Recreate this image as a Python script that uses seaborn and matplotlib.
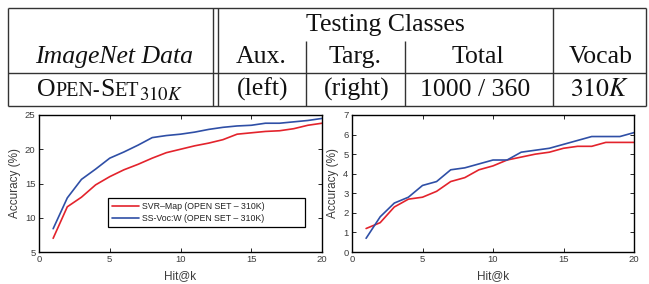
import matplotlib
matplotlib.use('Agg')
import matplotlib.pyplot as plt
import seaborn as sns

# data
hit_k = [1, 2, 3, 4, 5, 6, 7, 8, 9, 10, 11, 12, 13, 14, 15, 16, 17, 18, 19, 20]
svr_left = [7.0, 11.6, 13.0, 14.8, 16.0, 17.0, 17.8, 18.7, 19.5, 20.0,
            20.5, 20.9, 21.4, 22.2, 22.4, 22.6, 22.7, 23.0, 23.5, 23.8]
ssvoc_left = [8.4, 12.9, 15.6, 17.1, 18.7, 19.6, 20.6, 21.7, 22.0, 22.2,
              22.5, 22.9, 23.2, 23.4, 23.5, 23.8, 23.8, 24.0, 24.2, 24.5]
svr_right = [1.2, 1.5, 2.3, 2.7, 2.8, 3.1, 3.6, 3.8, 4.2, 4.4,
             4.7, 4.85, 5.0, 5.1, 5.3, 5.4, 5.4, 5.6, 5.6, 5.6]
ssvoc_right = [0.7, 1.8, 2.5, 2.8, 3.4, 3.6, 4.2, 4.3, 4.5, 4.7,
               4.7, 5.1, 5.2, 5.3, 5.5, 5.7, 5.9, 5.9, 5.9, 6.1]

legend_labels = ['SVR\u2013Map (OPEN SET \u2013 310K)', 'SS-Voc:W (OPEN SET \u2013 310K)']
header_top = 'Testing Classes'
header_cols = ['Aux.', 'Targ.', 'Total', 'Vocab']
row_vals = ['(left)', '(right)', '1000 / 360', '$310K$']

sns.set_theme(style='ticks')
plt.rcParams['font.family'] = ['Liberation Sans', 'DejaVu Sans']
plt.rcParams['mathtext.fontset'] = 'stix'

W, H = 649, 284
fig = plt.figure(figsize=(W / 100, H / 100), dpi=100)
fig.patch.set_facecolor('white')

# ---- table on top (pixel coords) ----
tab = fig.add_axes([0, 0, 1, 1])
tab.set_xlim(0, W)
tab.set_ylim(H, 0)
tab.axis('off')

lk = dict(color='#333333', lw=1.0, solid_capstyle='butt')
for y in (8, 72.7, 106):
    tab.plot([8, 646], [y, y], **lk)
for x in (8, 213.3, 218.3, 553, 646):
    tab.plot([x, x], [8, 106], **lk)
for x in (306, 405):
    tab.plot([x, x], [40.5, 106], **lk)

serif = 'Liberation Serif'
fs = 18.5
tk = dict(va='baseline', fontsize=fs, family=serif, color='#111111')
tab.text(385.5, 31.5, header_top, ha='center', **tk)
tab.text(114, 63, 'ImageNet Data', ha='center', style='italic', **tk)
for cx, s in zip([261, 355, 478, 601], header_cols):
    tab.text(cx, 63, s, ha='center', **tk)
for cx, s in zip([263, 357, 475, 600], row_vals):
    tab.text(cx, 95.5, s, ha='center', **tk)

# small caps OPEN-SET with subscript
pieces = [('O', fs, 0), ('PEN-', 14.5, 0), ('S', fs, 0), ('ET', 14.5, 0), ('$310K$', 13.5, 4)]
texts = []
for s, size, dy in pieces:
    t = tab.text(0, 95.5 + dy, s, ha='left', va='baseline', fontsize=size,
                 family=serif, color='#111111')
    texts.append(t)
r = fig.canvas.get_renderer()
widths = [t.get_window_extent(r).width for t in texts]
x = 109.5 - sum(widths) / 2
for t, w in zip(texts, widths):
    t.set_x(x)
    x += w

# ---- the two plots ----
red = '#e3232c'
blue = '#2f4fa6'
axL = fig.add_axes([39 / W, 1 - 252 / H, 283 / W, 137 / H])
axR = fig.add_axes([352 / W, 1 - 252 / H, 282 / W, 137 / H])

sns.lineplot(x=hit_k, y=svr_left, ax=axL, color=red, lw=1.2, label=legend_labels[0])
sns.lineplot(x=hit_k, y=ssvoc_left, ax=axL, color=blue, lw=1.2, label=legend_labels[1])
sns.lineplot(x=hit_k, y=svr_right, ax=axR, color=red, lw=1.2)
sns.lineplot(x=hit_k, y=ssvoc_right, ax=axR, color=blue, lw=1.2)

axL.set_ylim(5, 25)
axL.set_yticks([5, 10, 15, 20, 25])
axR.set_ylim(0, 7)
axR.set_yticks([0, 1, 2, 3, 4, 5, 6, 7])

for ax in (axL, axR):
    ax.set_xlim(0, 20)
    ax.set_xticks([0, 5, 10, 15, 20])
    ax.tick_params(direction='in', top=True, right=True, length=3, width=0.7,
                   labelsize=6.8, labelcolor='#3c3c3c', pad=2.5)
    for sp in ax.spines.values():
        sp.set_visible(True)
        sp.set_linewidth(1.0)
        sp.set_color('black')
    ax.set_xlabel('Hit@k', fontsize=8.5, color='#3c3c3c', labelpad=4)
    ax.set_ylabel('Accuracy (%)', fontsize=8.5, color='#3c3c3c', labelpad=3)

leg = axL.legend(loc='lower left', bbox_to_anchor=(0.244, 0.182, 0.696, 0.22),
                 mode='expand', borderaxespad=0, fontsize=6.3, frameon=True,
                 fancybox=False, edgecolor='black', framealpha=1,
                 handlelength=3.1, handletextpad=0.35, labelspacing=0.35,
                 borderpad=0.45)
leg.get_frame().set_linewidth(0.9)
for txt in leg.get_texts():
    txt.set_color('#222222')

fig.savefig('out.png', dpi=100, facecolor='white')
